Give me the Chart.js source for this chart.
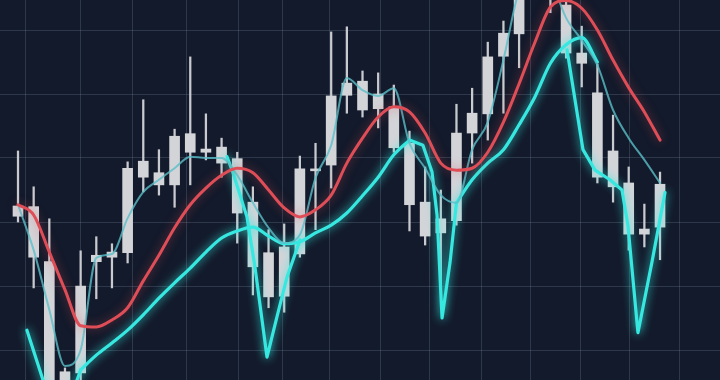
<!DOCTYPE html>
<html>
<head>
<meta charset="utf-8">
<script src="https://cdn.jsdelivr.net/npm/chart.js@4.4.1/dist/chart.umd.min.js"></script>
<style>
  html, body { margin: 0; padding: 0; background: #131a2b; }
  #wrap { width: 720px; height: 380px; position: relative; }
</style>
</head>
<body>
<div id="wrap"><canvas id="chart"></canvas></div>
<script>
// candles, one per session
const openP  = [122.5,122.4,113.8,96.6,96.4,113.8,114.5,115.2,127.0,127.7,125.8,130.9,131.4,131.7,129.9,123.1,115.2,108.4,115.0,128.0,128.9,139.8,142.0,137.7,138.0,132.3,123.1,120.5,120.2,133.9,136.9,145.9,149.4,156.2,157.8,153.9,146.4,140.2,131.1,126.1,118.9,119.2];
const highP  = [131.1,125.5,120.5,97.2,115.5,117.7,116.6,129.4,139.1,131.3,134.5,145.8,136.9,133.1,130.9,125.5,118.8,119.7,130.3,132.3,149.7,150.5,143.6,143.3,141.4,134.2,128.6,125.0,138.4,140.9,148.1,151.4,157.8,164.1,160.9,156.6,150.6,144.7,136.7,128.6,122.8,127.8];
const lowP   = [120.0,109.7,92.2,92.2,94.5,108.0,109.7,113.6,124.7,124.2,122.3,125.8,129.7,127.0,116.7,108.6,106.6,105.9,114.5,118.8,125.3,137.0,136.4,134.7,130.9,118.6,116.4,110.2,119.5,129.2,132.8,137.0,144.1,155.0,152.7,145.6,141.1,126.1,123.1,115.6,116.1,114.1];
const closeP = [120.9,114.5,93.0,93.0,110.0,114.8,115.3,128.4,129.5,125.8,133.4,133.8,130.9,129.2,121.4,113.0,108.3,116.1,128.3,128.3,139.7,141.7,137.5,140.0,131.6,122.7,117.8,118.3,133.9,137.0,145.8,149.5,155.5,160.9,155.5,146.4,144.8,127.0,125.5,118.1,118.1,125.9];

// moving averages
const redMA  = [122.7,121.1,115.3,109.4,103.8,103.6,104.7,106.6,110.8,114.8,119.1,122.7,125.3,127.3,128.4,127.7,125.0,122.2,120.8,121.9,124.2,129.2,133.1,136.4,138.0,137.2,133.9,129.2,128.1,128.4,130.9,135.6,141.6,148.0,153.6,154.6,153.4,150.0,145.3,141.0,137.2,132.8];
const tealMA = [122.7,115.6,106.3,97.5,100.0,114.4,115.0,120.6,124.7,126.6,128.4,130.2,130.0,130.0,127.3,123.0,119.1,116.7,118.0,126.9,132.0,142.5,140.6,139.7,140.9,132.3,128.4,124.2,123.0,131.3,135.6,145.3,156.2,159.4,157.8,151.9,148.4,144.5,137.5,133.1,129.7,126.1];
const cyanMA = [null,null,null,null,96.9,99.2,101.1,103.1,105.5,108.1,110.5,112.8,115.3,117.5,118.6,119.2,117.8,116.6,116.9,118.3,119.5,121.4,124.1,127.0,130.5,132.8,null,null,123.0,126.6,129.2,131.3,135.2,139.5,144.8,147.7,148.8,145.0,null,null,null,null];

// sharp dips of the cyan line
const dipA_X = [0.57, 2.36, 3.77, 4];
const dipA_Y = [103.1, 89.5, 95.3, 96.9];
const dipB_X = [13.35, 13.73, 14.62, 15.13, 15.90, 16.54, 17.18, 18.01];
const dipB_Y = [130.2, 127.7, 120.8, 113.0, 98.9, 105.2, 111.4, 117.2];
const dipC_X = [25, 25.86, 26.44, 26.76, 27.08, 27.59, 28];
const dipC_Y = [132.8, 132.0, 127.8, 121.1, 105.0, 113.7, 123.0];
const dipD_X = [35.06, 35.57, 36.08, 36.85, 37.80, 38.57, 38.95, 39.59, 40.49, 41.32];
const dipD_Y = [146.9, 139.1, 131.3, 128.1, 126.6, 125.0, 119.5, 102.7, 113.8, 124.6];

const gridX = [0.51, 3.96, 7.34, 10.79, 14.05, 16.92, 19.92, 23.12, 26.31, 29.63, 32.76, 35.89, 39.08, 42.27];
const gridY = [100, 110, 120, 130, 140, 150];

const wicks = lowP.map((l, i) => ({ x: i, y: [l, highP[i]] }));
const bodies = openP.map((o, i) => ({ x: i, y: [Math.min(o, closeP[i]), Math.max(o, closeP[i])] }));
const toPts = arr => arr.map((v, i) => ({ x: i, y: v }));
const zipPts = (xs, ys) => xs.map((x, i) => ({ x: x, y: ys[i] }));

const CYAN = '#36e8e0';

const bg = {
  id: 'bg',
  beforeDraw(chart) {
    const c = chart.ctx;
    c.save();
    c.fillStyle = '#131a2b';
    c.fillRect(0, 0, chart.width, chart.height);
    c.restore();
  }
};

const glow = {
  id: 'glow',
  beforeDatasetDraw(chart, args) {
    const ds = chart.data.datasets[args.index];
    if (ds.glow) {
      chart.ctx.save();
      chart.ctx.shadowColor = ds.glow;
      chart.ctx.shadowBlur = 10;
    }
  },
  afterDatasetDraw(chart, args) {
    if (chart.data.datasets[args.index].glow) chart.ctx.restore();
  }
};

function lineDs(data, color, width, extra) {
  return Object.assign({
    type: 'line',
    data: data,
    borderColor: color,
    borderWidth: width,
    pointRadius: 0,
    fill: false,
    order: 0,
    borderCapStyle: 'round',
    borderJoinStyle: 'round',
    cubicInterpolationMode: 'monotone'
  }, extra || {});
}

new Chart(document.getElementById('chart'), {
  type: 'bar',
  data: {
    datasets: [
      { type: 'bar', data: wicks, backgroundColor: '#c9cacf', barThickness: 1.6, grouped: false, borderSkipped: false, order: 3 },
      { type: 'bar', data: bodies, backgroundColor: '#d3d4d8', barThickness: 10, grouped: false, borderSkipped: false, order: 2 },
      lineDs(toPts(redMA), '#df4d57', 3, { glow: 'rgba(223,77,87,0.5)' }),
      lineDs(toPts(tealMA), 'rgba(90,190,200,0.8)', 2),
      lineDs(toPts(cyanMA), CYAN, 3.2, { glow: CYAN }),
      lineDs(zipPts(dipA_X, dipA_Y), CYAN, 3.2, { glow: CYAN, tension: 0, cubicInterpolationMode: 'default' }),
      lineDs(zipPts(dipB_X, dipB_Y), CYAN, 3.2, { glow: CYAN, tension: 0, cubicInterpolationMode: 'default' }),
      lineDs(zipPts(dipC_X, dipC_Y), CYAN, 3.2, { glow: CYAN, tension: 0, cubicInterpolationMode: 'default' }),
      lineDs(zipPts(dipD_X, dipD_Y), CYAN, 3.2, { glow: CYAN, tension: 0, cubicInterpolationMode: 'default' })
    ]
  },
  options: {
    responsive: true,
    maintainAspectRatio: false,
    animation: false,
    devicePixelRatio: 1,
    layout: { padding: 0 },
    plugins: { legend: { display: false }, tooltip: { enabled: false } },
    scales: {
      x: {
        type: 'linear',
        offset: false,
        min: -1.15,
        max: 44.83,
        ticks: { display: false },
        border: { display: false },
        grid: { color: 'rgba(110,125,150,0.3)', lineWidth: 1, drawTicks: false, offset: false },
        afterBuildTicks: axis => { axis.ticks = gridX.map(v => ({ value: v })); }
      },
      y: {
        min: 95.3125,
        max: 154.6875,
        ticks: { display: false },
        border: { display: false },
        grid: { color: 'rgba(110,125,150,0.3)', lineWidth: 1, drawTicks: false },
        afterBuildTicks: axis => { axis.ticks = gridY.map(v => ({ value: v })); }
      }
    }
  },
  plugins: [bg, glow]
});
</script>
</body>
</html>
